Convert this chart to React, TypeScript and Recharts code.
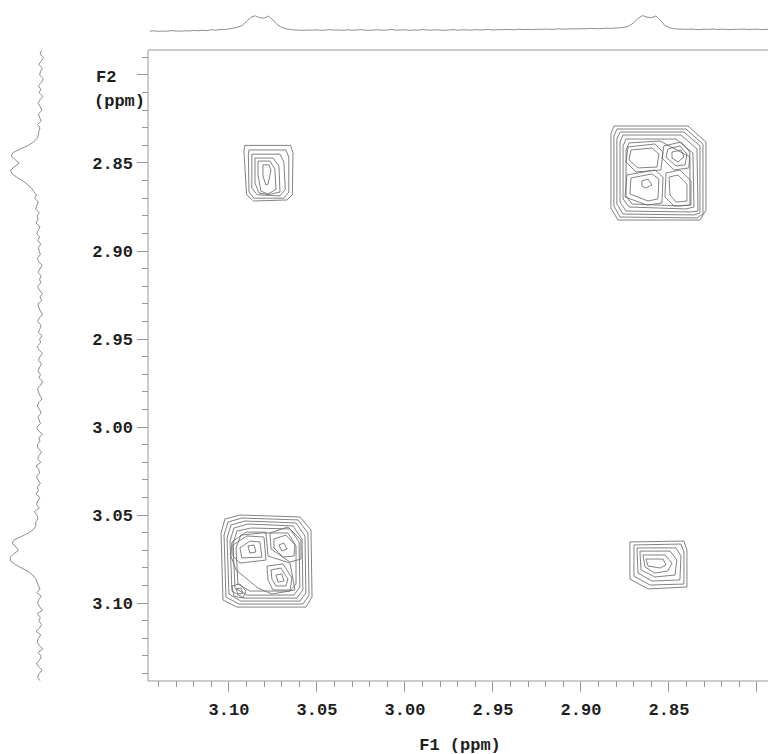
import { ComposedChart, LineChart, Line, Scatter, XAxis, YAxis, ReferenceLine } from "recharts";

type Pt = [number, number];

// spectral window in ppm, shared by the contour map and both projections
const F1_RANGE: [number, number] = [2.7892, 3.146];
const F2_RANGE: [number, number] = [2.7858, 3.1443];

const X_LABELS = ["3.10", "3.05", "3.00", "2.95", "2.90", "2.85"];
const Y_LABELS = ["2.85", "2.90", "2.95", "3.00", "3.05", "3.10"];

// tick marks every 0.01 ppm, every fifth one long
const TICKS = Array.from({ length: 36 }, (_, i) => Number((2.79 + i * 0.01).toFixed(2)));

// F1 projection (top), 3.145 -> 2.790 ppm, 0.0025 ppm per point
const F1_PROJ_START = 3.145;
const F1_PROJ_STEP = -0.0025;
const f1Projection = [
  0.04, 0.06, 0.03, 0.05, 0.04, 0.07, 0.05, 0.04, 0.06, 0.05, 0.08, 0.06, 0.09, 0.07,
  0.11, 0.09, 0.13, 0.12, 0.16, 0.19, 0.24, 0.33, 0.52,
  0.74, 0.81, 0.71, 0.7, 0.79, 0.6, 0.36, 0.23, 0.16, 0.12, 0.1, 0.09,
  0.08, 0.1, 0.09, 0.11, 0.08, 0.1, 0.12, 0.09, 0.1, 0.08,
  0.11, 0.09, 0.1, 0.12, 0.09, 0.08, 0.1, 0.11, 0.09, 0.1,
  0.13, 0.09, 0.1, 0.11, 0.08, 0.1, 0.09, 0.12, 0.1, 0.09,
  0.11, 0.1, 0.08, 0.1, 0.12, 0.09, 0.11, 0.1, 0.09, 0.12,
  0.1, 0.11, 0.13, 0.1, 0.12, 0.11, 0.13, 0.12, 0.11, 0.14,
  0.12, 0.13, 0.12, 0.14, 0.13, 0.15, 0.13, 0.14, 0.16, 0.14,
  0.15,
  0.16, 0.15, 0.17, 0.16, 0.18, 0.17, 0.16, 0.18, 0.19, 0.18, 0.2,
  0.21, 0.24, 0.31, 0.47, 0.69, 0.82, 0.74, 0.72, 0.8, 0.6, 0.34, 0.22, 0.17, 0.15,
  0.14, 0.13, 0.15, 0.13, 0.12, 0.14, 0.13, 0.15, 0.12, 0.14, 0.13, 0.12, 0.14, 0.13,
  0.15, 0.12, 0.13, 0.14, 0.12, 0.13, 0.14, 0.13,
];

// F2 projection (left), 2.786 -> 3.144 ppm, 0.002 ppm per point
const F2_PROJ_START = 2.786;
const F2_PROJ_STEP = 0.002;
const f2Projection = [
  0.2, 0.26, 0.22, 0.15, 0.24, 0.29, 0.2, 0.17, 0.25, 0.13, 0.22, 0.27, 0.24, 0.18,
  0.3, 0.21, 0.16, 0.23, 0.19, 0.27, 0.14, 0.21, 0.26, 0.23, 0.17, 0.28, 0.2, 0.24,
  0.27, 0.31, 0.38, 0.5, 0.66, 0.82, 0.93, 0.95, 0.86, 0.74, 0.8, 0.9, 0.85, 0.66, 0.48, 0.36, 0.3,
  0.31, 0.25, 0.28, 0.34, 0.22, 0.29, 0.26, 0.2, 0.3, 0.24,
  0.27, 0.19, 0.25, 0.29, 0.21, 0.23, 0.3, 0.18, 0.26, 0.22,
  0.16, 0.25, 0.27, 0.2, 0.23, 0.14, 0.24, 0.28, 0.19, 0.22,
  0.25, 0.17, 0.21, 0.27, 0.23, 0.15, 0.2, 0.24, 0.26, 0.18,
  0.13, 0.22, 0.19, 0.25, 0.21, 0.16, 0.24, 0.2, 0.14, 0.23,
  0.27, 0.18, 0.21, 0.15, 0.24, 0.2, 0.17, 0.26, 0.22, 0.13,
  0.19, 0.23, 0.25, 0.16, 0.2, 0.14, 0.22, 0.26, 0.18, 0.21,
  0.17, 0.25, 0.2, 0.15, 0.23, 0.27, 0.19, 0.22, 0.24, 0.18,
  0.26, 0.21, 0.28, 0.24, 0.2, 0.3, 0.25, 0.27, 0.22, 0.31,
  0.28, 0.24, 0.33, 0.29,
  0.36, 0.42, 0.52, 0.64, 0.78, 0.9, 0.94, 0.84, 0.72, 0.82, 0.92, 0.88, 0.7, 0.5, 0.36, 0.28, 0.24,
  0.23, 0.2, 0.26, 0.17, 0.21, 0.24, 0.15, 0.19, 0.25, 0.2, 0.13, 0.22,
  0.18, 0.24, 0.16, 0.12, 0.21, 0.19, 0.14, 0.23, 0.17, 0.11, 0.2, 0.16,
];

// contour levels as [F1, F2] vertices, outer levels first
// cross peak F1 3.08 / F2 2.86
const peakA: Pt[][] = [
  [[3.091, 2.84], [3.065, 2.84], [3.0636, 2.8443], [3.064, 2.868], [3.067, 2.871], [3.086, 2.8716], [3.09, 2.868], [3.0915, 2.843]],
  [[3.0886, 2.8426], [3.0676, 2.8426], [3.066, 2.8466], [3.066, 2.8665], [3.0688, 2.87], [3.0858, 2.87], [3.0886, 2.8665], [3.089, 2.845]],
  [[3.087, 2.845], [3.071, 2.845], [3.0688, 2.8494], [3.068, 2.865], [3.071, 2.8687], [3.084, 2.868], [3.087, 2.8642]],
  [[3.0852, 2.8472], [3.075, 2.8472], [3.0716, 2.8517], [3.071, 2.8665], [3.0778, 2.868], [3.083, 2.867], [3.0852, 2.8614]],
  [[3.0835, 2.8489], [3.0767, 2.8489], [3.0739, 2.8534], [3.0733, 2.865], [3.0778, 2.8676], [3.0818, 2.866], [3.0835, 2.8568]],
  [[3.0807, 2.8511], [3.0773, 2.8511], [3.0761, 2.854], [3.0778, 2.862], [3.079, 2.8625], [3.0807, 2.8574]],
];

// diagonal peak 2.86 / 2.86
const peakB: Pt[][] = [
  [[2.8813, 2.829], [2.8392, 2.829], [2.829, 2.8381], [2.829, 2.8767], [2.8324, 2.8824], [2.879, 2.8824], [2.883, 2.8756], [2.883, 2.8335]],
  [[2.8796, 2.8307], [2.8404, 2.8307], [2.8307, 2.8392], [2.8307, 2.879], [2.8341, 2.8812], [2.8778, 2.8807], [2.8813, 2.8744], [2.8813, 2.8347]],
  [[2.8778, 2.8324], [2.8415, 2.8324], [2.8324, 2.8403], [2.8324, 2.8784], [2.8358, 2.8795], [2.8761, 2.879], [2.8796, 2.8733], [2.8796, 2.8364]],
  [[2.8761, 2.8341], [2.8432, 2.8341], [2.8341, 2.842], [2.8335, 2.8773], [2.8381, 2.8778], [2.8744, 2.8773], [2.8778, 2.8722], [2.8778, 2.8381]],
  [[2.8744, 2.8364], [2.846, 2.8364], [2.8364, 2.8443], [2.8358, 2.875], [2.8404, 2.8761], [2.8727, 2.875], [2.8761, 2.8704], [2.8761, 2.8403]],
  [[2.8727, 2.8386], [2.8551, 2.8375], [2.8381, 2.8466], [2.8381, 2.8739], [2.8438, 2.8744], [2.871, 2.8733], [2.8744, 2.8687], [2.8744, 2.8426]],
  [[2.8733, 2.8409], [2.858, 2.8392], [2.8534, 2.8438], [2.8546, 2.854], [2.8688, 2.8551], [2.8744, 2.8494]],
  [[2.8716, 2.8426], [2.8597, 2.8415], [2.8557, 2.8449], [2.8568, 2.8523], [2.8676, 2.8528], [2.8727, 2.8483]],
  [[2.8529, 2.8403], [2.8432, 2.8381], [2.8381, 2.8438], [2.8387, 2.8528], [2.8472, 2.854], [2.854, 2.8472]],
  [[2.8506, 2.842], [2.8438, 2.8403], [2.8398, 2.8449], [2.8409, 2.8511], [2.846, 2.8517], [2.8517, 2.8466]],
  [[2.8483, 2.8438], [2.8432, 2.8426], [2.8415, 2.8466], [2.8449, 2.8494], [2.8483, 2.8472]],
  [[2.8739, 2.8568], [2.858, 2.854], [2.8534, 2.858], [2.854, 2.8727], [2.8625, 2.8739], [2.875, 2.8693]],
  [[2.8716, 2.8585], [2.8597, 2.8562], [2.8557, 2.8591], [2.8563, 2.8704], [2.8619, 2.8716], [2.8722, 2.8676]],
  [[2.8654, 2.8602], [2.8619, 2.8591], [2.8597, 2.8625], [2.8631, 2.8642], [2.8654, 2.8631]],
  [[2.8517, 2.8557], [2.8438, 2.854], [2.8375, 2.8602], [2.8375, 2.8739], [2.8472, 2.8744], [2.8523, 2.8693]],
  [[2.85, 2.858], [2.8449, 2.8568], [2.8398, 2.862], [2.8398, 2.8716], [2.846, 2.8722], [2.8494, 2.8682]],
];

// diagonal peak 3.08 / 3.08
const peakC: Pt[][] = [
  [[3.1023, 3.0523], [3.0938, 3.05], [3.0597, 3.0511], [3.0534, 3.0585], [3.0528, 3.0966], [3.0563, 3.1023], [3.0955, 3.1023], [3.1034, 3.0983], [3.1045, 3.0602]],
  [[3.1006, 3.054], [3.0926, 3.0517], [3.0608, 3.0528], [3.0551, 3.0602], [3.0545, 3.0955], [3.058, 3.1006], [3.0943, 3.1006], [3.1017, 3.0966], [3.1028, 3.0614]],
  [[3.0989, 3.0557], [3.0909, 3.0534], [3.0619, 3.0545], [3.0568, 3.0619], [3.0563, 3.0943], [3.0597, 3.0989], [3.0932, 3.0989], [3.1, 3.0949], [3.1011, 3.0631]],
  [[3.0972, 3.0574], [3.0892, 3.0551], [3.0636, 3.0562], [3.0585, 3.0636], [3.058, 3.0926], [3.0614, 3.0972], [3.0915, 3.0972], [3.0983, 3.0932], [3.0994, 3.0648]],
  [[3.0955, 3.0591], [3.0875, 3.0574], [3.0653, 3.0579], [3.0602, 3.0653], [3.0597, 3.0909], [3.0631, 3.0955], [3.0898, 3.0955], [3.0966, 3.0915], [3.0977, 3.0665]],
  [[3.0932, 3.0614], [3.0813, 3.0602], [3.0665, 3.0602], [3.0619, 3.0676], [3.0619, 3.0892], [3.0653, 3.0932], [3.0881, 3.0932], [3.0949, 3.0892], [3.096, 3.0687]],
  [[3.0983, 3.0653], [3.0903, 3.0597], [3.079, 3.0597], [3.0778, 3.0733], [3.0653, 3.0773], [3.0625, 3.0926], [3.0756, 3.0949], [3.0835, 3.0915], [3.096, 3.0812], [3.0989, 3.0733]],
  [[3.0977, 3.067], [3.0898, 3.0619], [3.0801, 3.0625], [3.079, 3.0756], [3.0938, 3.0773], [3.0977, 3.0733]],
  [[3.0938, 3.0687], [3.0881, 3.0648], [3.0824, 3.0653], [3.0813, 3.0739], [3.0926, 3.0744]],
  [[3.0892, 3.0676], [3.0858, 3.067], [3.0847, 3.071], [3.0881, 3.0716]],
  [[3.0767, 3.0602], [3.0665, 3.0568], [3.0591, 3.0642], [3.0591, 3.075], [3.0653, 3.0767], [3.0761, 3.0693]],
  [[3.0744, 3.0636], [3.0676, 3.0614], [3.0625, 3.067], [3.0631, 3.0733], [3.0693, 3.0739], [3.0744, 3.0687]],
  [[3.0716, 3.067], [3.0688, 3.0659], [3.067, 3.0693], [3.0699, 3.0705]],
  [[3.0784, 3.079], [3.0693, 3.0778], [3.0642, 3.0858], [3.0653, 3.0926], [3.075, 3.0926], [3.0778, 3.0869]],
  [[3.0761, 3.0812], [3.0705, 3.0801], [3.0665, 3.0864], [3.0676, 3.0903], [3.0733, 3.0903], [3.0756, 3.0864]],
  [[3.0733, 3.0841], [3.0699, 3.0835], [3.0688, 3.0875], [3.0722, 3.0881]],
  [[3.0983, 3.0903], [3.0938, 3.0892], [3.0903, 3.0932], [3.0921, 3.0972], [3.0972, 3.096]],
  [[3.096, 3.092], [3.0932, 3.0915], [3.0921, 3.0943], [3.0949, 3.0949]],
];

// cross peak F1 2.86 / F2 3.08
const peakD: Pt[][] = [
  [[2.8722, 3.0653], [2.8415, 3.0648], [2.8398, 3.0699], [2.8398, 3.0909], [2.8619, 3.092], [2.8722, 3.0864]],
  [[2.8699, 3.067], [2.8432, 3.0665], [2.8415, 3.071], [2.8415, 3.0892], [2.8608, 3.0898], [2.8699, 3.0847]],
  [[2.8682, 3.0687], [2.846, 3.0687], [2.8432, 3.0733], [2.8438, 3.0869], [2.8597, 3.0875], [2.8676, 3.083]],
  [[2.8665, 3.0705], [2.8494, 3.0705], [2.8455, 3.0756], [2.8466, 3.0841], [2.858, 3.0852], [2.8659, 3.0812]],
  [[2.8648, 3.0727], [2.8523, 3.0727], [2.8483, 3.0773], [2.8506, 3.0818], [2.858, 3.083], [2.8636, 3.0795]],
  [[2.8631, 3.075], [2.8534, 3.075], [2.8517, 3.0784], [2.8551, 3.0801], [2.8619, 3.079]],
];

const AXIS = "#9a9a9a";
const TRACE = "#707070";
const CONTOUR = "#6c6c6c";
const LABEL = {
  fontFamily: "'Liberation Mono', 'DejaVu Sans Mono', monospace",
  fontWeight: 700,
  fontSize: 17,
  fill: "#1e1e1e",
};

const f1Data = f1Projection.map((v, i) => ({ ppm: F1_PROJ_START + i * F1_PROJ_STEP, v }));
const f2Data = f2Projection.map((v, i) => ({ ppm: F2_PROJ_START + i * F2_PROJ_STEP, v }));

// close every level back onto its first vertex
const contours = [...peakA, ...peakB, ...peakC, ...peakD].map((ring) =>
  [...ring, ring[0]].map(([x, y]) => ({ x, y }))
);

const isMajor = (v: number) => Math.round(v * 100) % 5 === 0;

function F1Tick({ x, y, payload }: any) {
  const label = Number(payload.value).toFixed(2);
  const len = isMajor(payload.value) ? 11 : 6;
  return (
    <g>
      <line x1={x} x2={x} y1={y} y2={y + len} stroke={AXIS} shapeRendering="crispEdges" />
      {X_LABELS.includes(label) && (
        <text x={x} y={y + 34} textAnchor="middle" {...LABEL}>
          {label}
        </text>
      )}
    </g>
  );
}

function F2Tick({ x, y, payload }: any) {
  const label = Number(payload.value).toFixed(2);
  const len = isMajor(payload.value) ? 11 : 6;
  return (
    <g>
      <line x1={x - len} x2={x} y1={y} y2={y} stroke={AXIS} shapeRendering="crispEdges" />
      {Y_LABELS.includes(label) && (
        <text x={x - 15} y={y + 6} textAnchor="end" {...LABEL}>
          {label}
        </text>
      )}
      {label === "2.80" && (
        <>
          <text x={x - 52} y={y + 7} {...LABEL}>F2</text>
          <text x={x - 54} y={y + 31} {...LABEL}>(ppm)</text>
        </>
      )}
    </g>
  );
}

const NoDot = () => <g />;

export default function App() {
  return (
    <div style={{ position: "relative", width: 768, height: 746 }}>
      <div style={{ position: "absolute", left: 0, top: 0 }}>
        <ComposedChart width={768} height={746} margin={{ top: 42, right: 0, bottom: 0, left: 0 }}>
          <XAxis
            type="number"
            dataKey="x"
            domain={F1_RANGE}
            reversed
            allowDataOverflow
            ticks={TICKS}
            interval={0}
            height={73}
            tickSize={0}
            tickMargin={0}
            tick={<F1Tick />}
            axisLine={{ stroke: AXIS }}
          />
          <YAxis
            type="number"
            dataKey="y"
            domain={F2_RANGE}
            reversed
            allowDataOverflow
            ticks={TICKS}
            interval={0}
            width={140}
            tickSize={0}
            tickMargin={0}
            tick={<F2Tick />}
            axisLine={{ stroke: AXIS }}
          />
          <ReferenceLine y={F2_RANGE[0]} stroke={AXIS} ifOverflow="visible" />
          {contours.map((pts, i) => (
            <Scatter
              key={i}
              data={pts}
              line={{ stroke: CONTOUR, strokeWidth: 0.85 }}
              lineJointType="linear"
              shape={NoDot}
              isAnimationActive={false}
            />
          ))}
        </ComposedChart>
      </div>

      <div style={{ position: "absolute", left: 0, top: 0 }}>
        <LineChart width={768} height={40} data={f1Data} margin={{ top: 4, right: 0, bottom: 16, left: 140 }}>
          <XAxis type="number" dataKey="ppm" domain={F1_RANGE} reversed hide allowDataOverflow />
          <YAxis type="number" domain={[0, 1]} hide allowDataOverflow />
          <Line dataKey="v" stroke={TRACE} strokeWidth={0.8} dot={false} isAnimationActive={false} />
        </LineChart>
      </div>

      <div style={{ position: "absolute", left: 0, top: 0 }}>
        <LineChart layout="vertical" width={44} height={746} data={f2Data} margin={{ top: 42, right: 4, bottom: 73, left: 0 }}>
          <XAxis type="number" domain={[0, 1]} reversed hide allowDataOverflow />
          <YAxis type="number" dataKey="ppm" domain={F2_RANGE} reversed hide allowDataOverflow />
          <Line dataKey="v" stroke={TRACE} strokeWidth={0.8} dot={false} isAnimationActive={false} />
        </LineChart>
      </div>

      <svg width={768} height={746} style={{ position: "absolute", left: 0, top: 0, pointerEvents: "none" }}>
        <text x={452} y={742} textAnchor="middle" {...LABEL}>
          F1 (ppm)
        </text>
      </svg>
    </div>
  );
}
